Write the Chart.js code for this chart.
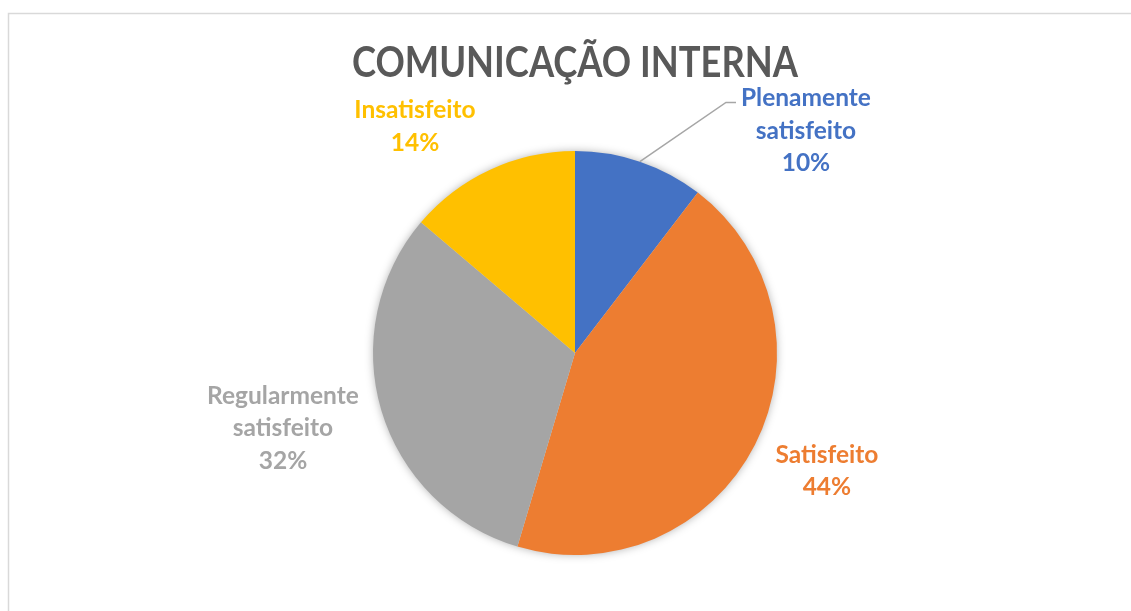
<!DOCTYPE html>
<html lang="pt">
<head>
<meta charset="utf-8">
<title>Comunicação Interna</title>
<script src="https://cdn.jsdelivr.net/npm/chart.js@4/dist/chart.umd.min.js"></script>
<style>
  html, body { margin: 0; padding: 0; background: #fff; overflow: hidden; }
  #wrap { width: 1131px; height: 611px; position: relative; }
  canvas { display: block; }
</style>
</head>
<body>
<div id="wrap"><canvas id="pie" width="1131" height="611"></canvas></div>
<script>
// dados do gráfico
const chartTitle = 'COMUNICAÇÃO INTERNA';
const categories = [['Plenamente', 'satisfeito'], ['Satisfeito'], ['Regularmente', 'satisfeito'], ['Insatisfeito']];
const values = [10.4, 44.2, 31.6, 13.8];
const colors = ['#4472C4', '#ED7D31', '#A5A5A5', '#FFC000'];

// posição dos rótulos (deslocamento angular em graus e distância relativa ao raio)
const labelLayout = [
    { shift: 27.4, dist: 1.586, leader: true },
    { shift: -1.9, dist: 1.377, leader: false },
    { shift: 2.1, dist: 1.493, leader: false },
    { shift: -10.4, dist: 1.373, leader: false }
];

const FONT = 'Lato, "Open Sans", sans-serif';

// borda do gráfico e título
const framePlugin = {
    id: 'frame',
    beforeDraw(chart) {
        const ctx = chart.ctx;
        ctx.save();
        ctx.fillStyle = '#fff';
        ctx.fillRect(0, 0, chart.width, chart.height);
        ctx.strokeStyle = '#D9D9D9';
        ctx.lineWidth = 1.5;
        ctx.strokeRect(8.5, 13.5, chart.width + 20, chart.height + 20);
        ctx.restore();
    },
    afterDraw(chart) {
        const ctx = chart.ctx;
        const area = chart.chartArea;
        const cx = (area.left + area.right) / 2;
        ctx.save();
        ctx.fillStyle = '#595959';
        ctx.font = 'bold 42px ' + FONT;
        ctx.textAlign = 'center';
        ctx.textBaseline = 'alphabetic';
        // fonte um pouco mais estreita, como a Calibri do original
        const w = ctx.measureText(chartTitle).width;
        const sx = Math.min(1, 446 / w);
        ctx.translate(cx, 77);
        ctx.scale(sx, 1);
        ctx.fillText(chartTitle, 0, 0);
        ctx.restore();
    }
};

// sombra suave sob a pizza
const shadowPlugin = {
    id: 'pieShadow',
    beforeDatasetsDraw(chart) {
        const arc = chart.getDatasetMeta(0).data[0];
        if (!arc) return;
        const p = arc.getProps(['x', 'y', 'outerRadius'], true);
        const ctx = chart.ctx;
        ctx.save();
        ctx.shadowColor = 'rgba(0,0,0,0.35)';
        ctx.shadowBlur = 10;
        ctx.shadowOffsetX = 0;
        ctx.shadowOffsetY = 0;
        ctx.fillStyle = '#ddd';
        ctx.beginPath();
        ctx.arc(p.x, p.y, p.outerRadius - 1, 0, Math.PI * 2);
        ctx.fill();
        ctx.restore();
    }
};

// rótulos de dados externos (categoria + percentual)
const outerLabels = {
    id: 'outerLabels',
    afterDatasetsDraw(chart) {
        const ctx = chart.ctx;
        const meta = chart.getDatasetMeta(0);
        const total = values.reduce((a, b) => a + b, 0);
        const lineH = 32.5;
        ctx.save();
        ctx.font = 'bold 24.5px ' + FONT;
        ctx.textAlign = 'center';
        ctx.textBaseline = 'middle';
        meta.data.forEach((arc, i) => {
            const p = arc.getProps(['x', 'y', 'startAngle', 'endAngle', 'outerRadius'], true);
            const mid = (p.startAngle + p.endAngle) / 2;
            const lay = labelLayout[i];
            const ang = mid + lay.shift * Math.PI / 180;
            const cx = p.x + Math.cos(ang) * p.outerRadius * lay.dist;
            const cy = p.y + Math.sin(ang) * p.outerRadius * lay.dist;
            const lines = categories[i].concat([Math.round(values[i] / total * 100) + '%']);
            const top = cy - (lines.length - 1) * lineH / 2;

            if (lay.leader) {
                const w = ctx.measureText(lines[0]).width;
                const lx = cx - w / 2 - 5;
                const ly = top + 4;
                ctx.strokeStyle = '#A6A6A6';
                ctx.lineWidth = 1.5;
                ctx.beginPath();
                ctx.moveTo(p.x + Math.cos(mid) * p.outerRadius, p.y + Math.sin(mid) * p.outerRadius);
                ctx.lineTo(lx - 10, ly);
                ctx.lineTo(lx, ly);
                ctx.stroke();
            }

            ctx.fillStyle = colors[i];
            lines.forEach((t, k) => ctx.fillText(t, cx, top + k * lineH));
        });
        ctx.restore();
    }
};

new Chart(document.getElementById('pie'), {
    type: 'pie',
    data: {
        labels: categories.map(c => c.join(' ')),
        datasets: [{
            data: values,
            backgroundColor: colors,
            borderWidth: 0
        }]
    },
    options: {
        responsive: false,
        animation: false,
        layout: {
            padding: { top: 151, bottom: 56, left: 300, right: 281 }
        },
        plugins: {
            legend: { display: false },
            title: { display: false },
            tooltip: { enabled: false }
        }
    },
    plugins: [framePlugin, shadowPlugin, outerLabels]
});
</script>
</body>
</html>
